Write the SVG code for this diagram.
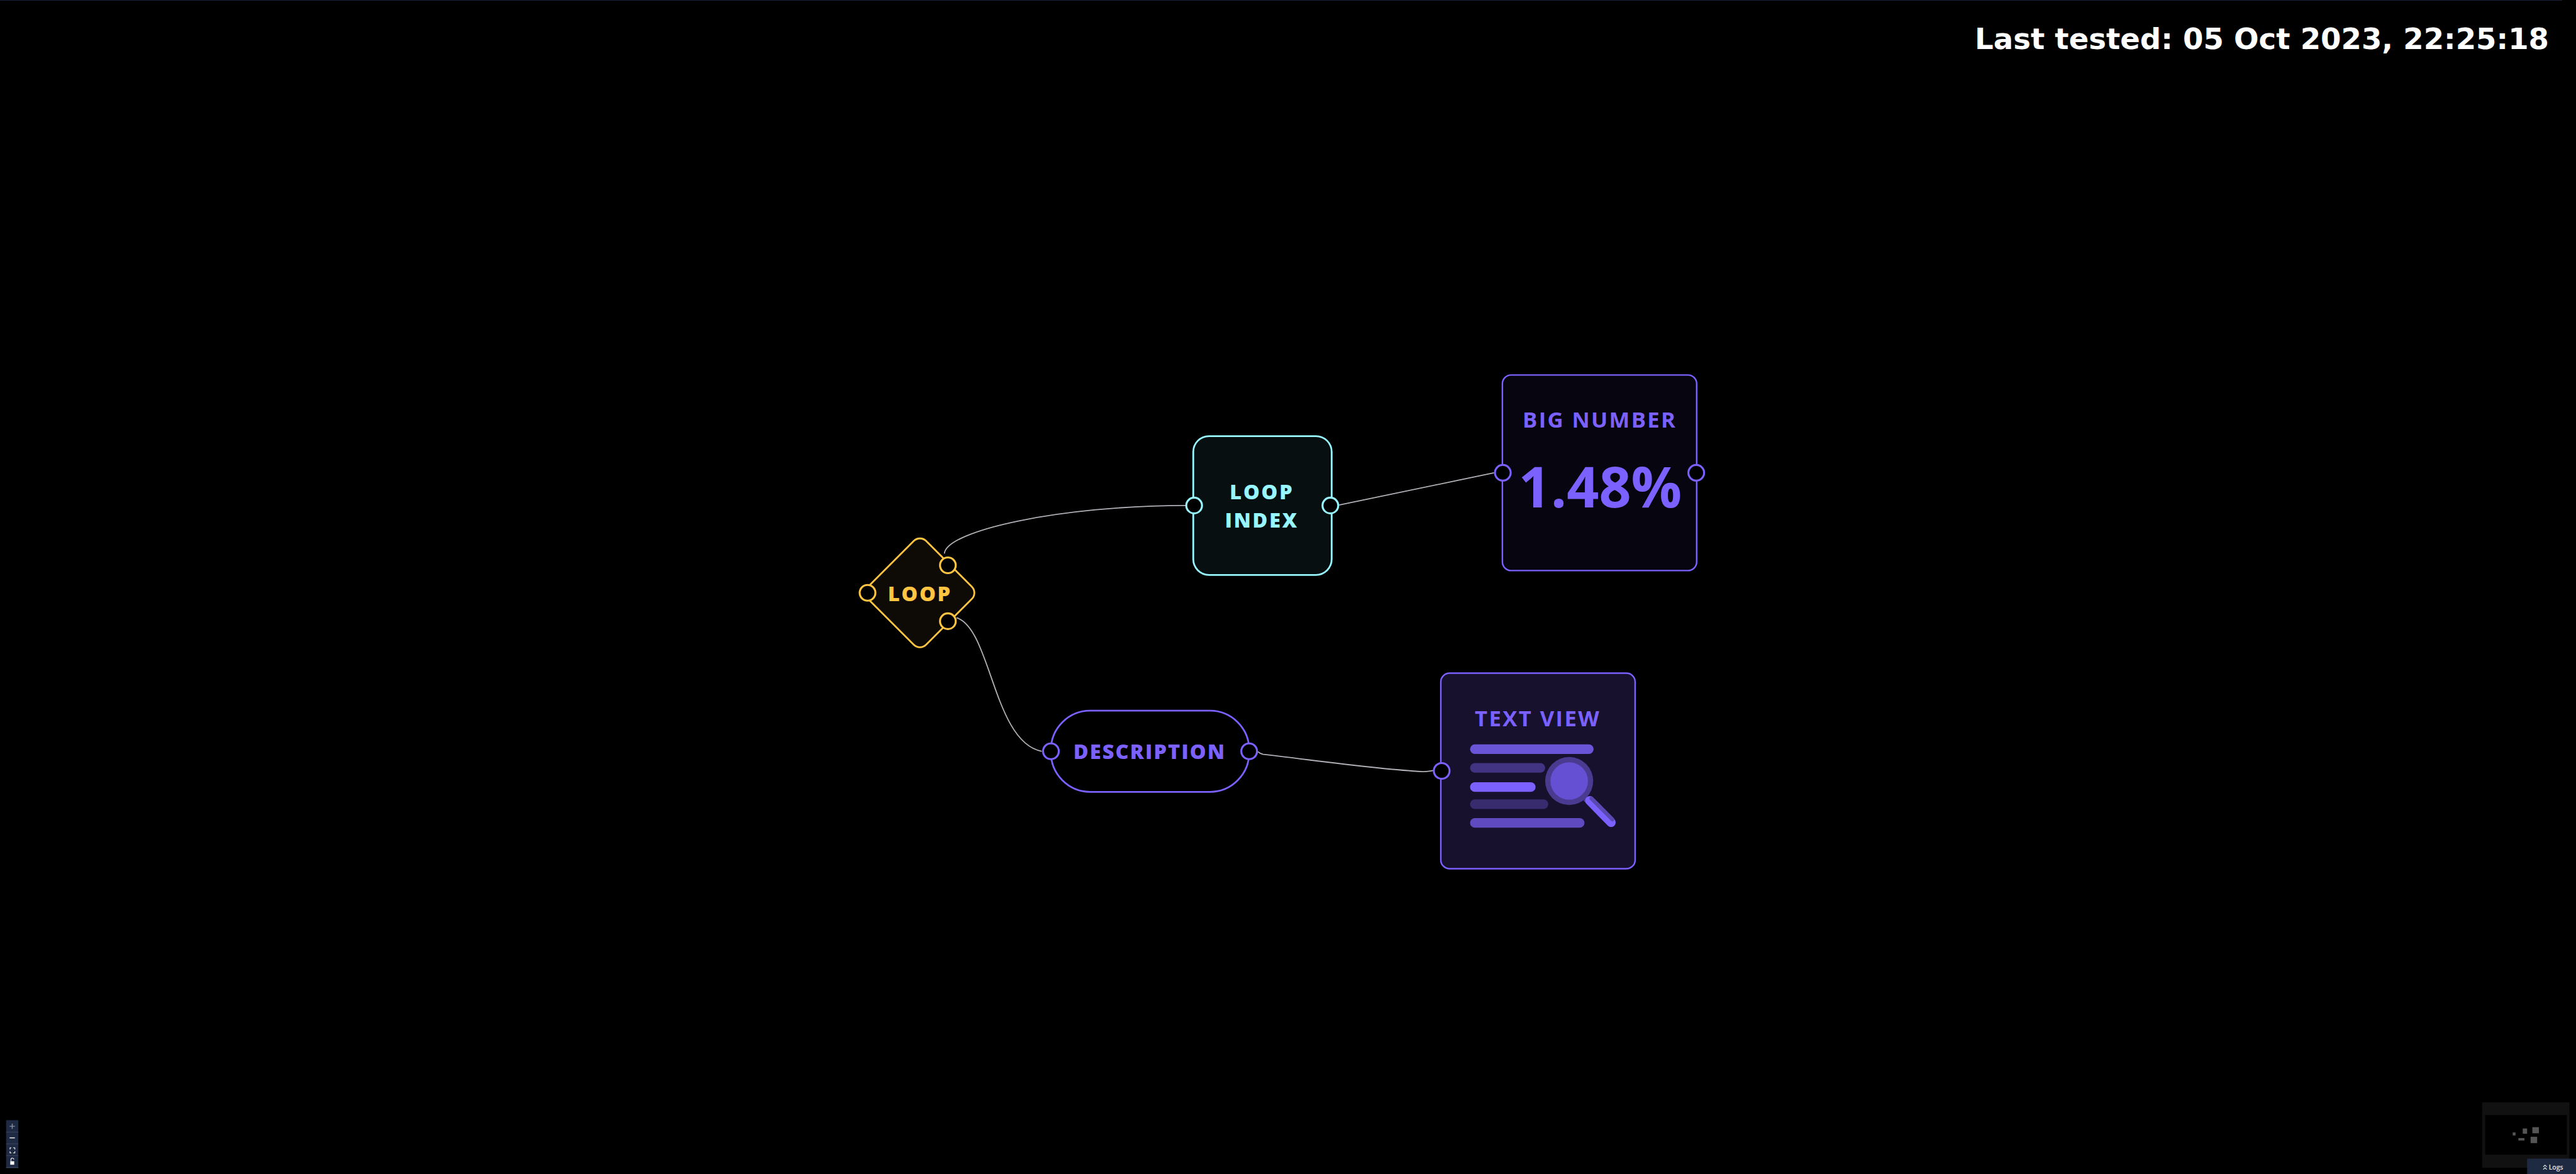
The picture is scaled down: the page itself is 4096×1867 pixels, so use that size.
<svg xmlns="http://www.w3.org/2000/svg" width="4096" height="1867" viewBox="0 0 4096 1867">
<style>
text{font-family:"Open Sans","Noto Sans",sans-serif;text-anchor:middle}
.edge{fill:none;stroke:#b1b1b7;stroke-width:2.6}
.port{fill:#000;stroke-width:4.500}
.y{stroke:#ffc542;fill:#000}.c{stroke:#97f6ff;fill:#000}.p{stroke:#7b61ff;fill:#000}
.lbl{font-weight:800;font-size:47px;letter-spacing:3.8px}
.ttl{font-weight:700;font-size:50px;letter-spacing:3.4px;fill:#7b61ff}
.bar{rx:11px;ry:11px}
.mm{fill:#555}
</style>
<rect width="4096" height="1867" fill="#000"/>
<g transform="scale(0.69424)">
<rect id="top-line" x="0" y="0" width="5868" height="1.500" fill="#1a2035"/>
<text id="last-tested" x="5838" y="113" style="font-family:'DejaVu Sans',sans-serif;font-weight:700;font-size:67.100px;text-anchor:end" fill="#fff">Last tested: 05 Oct 2023, 22:25:18</text>
<g id="connectors">
<path class="edge" d="M2163,1268 C2168,1215 2430,1158 2716,1158"/>
<path class="edge" d="M2191,1415 C2270,1440 2275,1700 2386,1721"/>
<path class="edge" d="M3067,1157 L3422,1083"/>
<path class="edge" d="M2881,1722 C2885,1726 2889,1727 2893,1728 C3000,1740 3150,1762 3258,1767.500 C3268,1768 3275,1766 3283,1765"/>
</g>
<g id="node-loop">
<rect x="2013" y="1264" width="188" height="188" rx="20" transform="rotate(45 2107 1358)" fill="#0e0a05" stroke="#ffc542" stroke-width="4"/>
<text class="lbl" x="2107" y="1377" fill="#ffc542">LOOP</text>
<circle class="port y" cx="1987" cy="1358" r="18"/><circle class="port y" cx="2171" cy="1295" r="18"/><circle class="port y" cx="2171" cy="1423" r="18"/>
</g>
<g id="node-loop-index">
<rect x="2733" y="999" width="317" height="318" rx="36" fill="#080f10" stroke="#97f6ff" stroke-width="4"/>
<text class="lbl" x="2890" y="1144" fill="#97f6ff">LOOP</text><text class="lbl" x="2890" y="1208" fill="#97f6ff">INDEX</text>
<circle class="port c" cx="2735" cy="1158" r="18"/><circle class="port c" cx="3047" cy="1158" r="18"/>
</g>
<g id="node-big-number">
<rect x="3441" y="859" width="445" height="448" rx="20" fill="#070510" stroke="#7b61ff" stroke-width="3.500"/>
<text class="ttl" x="3664" y="980">BIG NUMBER</text>
<text x="3665" y="1163" font-size="129" font-weight="700" fill="#7b61ff">1.48%</text>
<circle class="port p" cx="3442" cy="1083" r="18"/><circle class="port p" cx="3885" cy="1083" r="18"/>
</g>
<g id="node-description">
<rect x="2407" y="1628" width="454" height="186" rx="90" fill="#000" stroke="#7b61ff" stroke-width="4"/>
<text class="lbl" x="2633" y="1739" fill="#7b61ff" style="letter-spacing:3px">DESCRIPTION</text>
<circle class="port p" cx="2407" cy="1721" r="18"/><circle class="port p" cx="2861" cy="1721" r="18"/>
</g>
<g id="node-text-view">
<rect x="3300" y="1542" width="445" height="448" rx="20" fill="#17112d" stroke="#7b61ff" stroke-width="3.500"/>
<text class="ttl" x="3522" y="1663">TEXT VIEW</text>
<rect class="bar" x="3367" y="1705" width="283" height="22" fill="#6a55d9"/>
<rect class="bar" x="3367" y="1748" width="172" height="22" fill="#433483"/>
<rect class="bar" x="3367" y="1792" width="150" height="22" fill="#7b61ff"/>
<rect class="bar" x="3367" y="1831" width="179" height="22" fill="#392c6e"/>
<rect class="bar" x="3367" y="1874" width="262" height="22" fill="#5f4bbf"/>
<path d="M3630,1830 L3645,1845" stroke="#4a3b90" stroke-width="10" fill="none"/>
<circle cx="3594" cy="1789" r="55" fill="#4a3b90"/>
<circle cx="3594" cy="1789" r="43" fill="#654fd2"/>
<path d="M3641,1834 L3690,1884" stroke="#7b61ff" stroke-width="21" stroke-linecap="round" fill="none"/>
<path d="M3645,1829 L3693,1877" stroke="#5a49b0" stroke-width="9" stroke-linecap="round" fill="none"/>
<circle class="port p" cx="3302" cy="1766" r="18"/>
</g>
<g id="controls">
<rect x="14" y="2566" width="28" height="110" fill="#1e2a42"/>
<g fill="none" stroke="#3c465c" stroke-width="1.500"><path d="M14,2593H42M14,2620H42M14,2647H42M14,2674H42"/></g>
<path d="M22,2580H34M28,2574V2586" stroke="#8a93a3" stroke-width="2" fill="none"/>
<path d="M22,2606.500H34" stroke="#fff" stroke-width="2" fill="none"/>
<path d="M23,2633V2629H26M30,2629H34V2633M34,2637V2641H30M26,2641H23V2637" stroke="#fff" stroke-width="1.500" fill="none"/>
<rect x="23.500" y="2660" width="9" height="8" fill="#fff"/>
<path d="M25,2660V2657A3.500,3.500 0 0 1 32,2656" stroke="#fff" stroke-width="1.500" fill="none"/>
</g>
<g id="minimap">
<rect x="5685" y="2525" width="200" height="150" fill="#111"/>
<rect x="5692" y="2554" width="187" height="91" fill="#000"/>
<rect class="mm" x="5755" y="2594" width="6.500" height="7"/>
<rect class="mm" x="5778" y="2585" width="10" height="12"/>
<rect class="mm" x="5800" y="2582" width="15" height="14"/>
<rect class="mm" x="5768" y="2607" width="14" height="5.500"/>
<rect class="mm" x="5796" y="2604" width="15" height="14.500"/>
</g>
<g id="logs">
<rect x="5788" y="2654" width="112" height="36" fill="#1e2a42"/>
<path d="M5825,2673L5829,2669L5833,2673M5825,2679L5829,2675L5833,2679" stroke="#fff" stroke-width="1.500" fill="none"/>
<text x="5854" y="2679" font-size="15" font-weight="600" fill="#e8e8e8">Logs</text>
</g>
</g>
</svg>
